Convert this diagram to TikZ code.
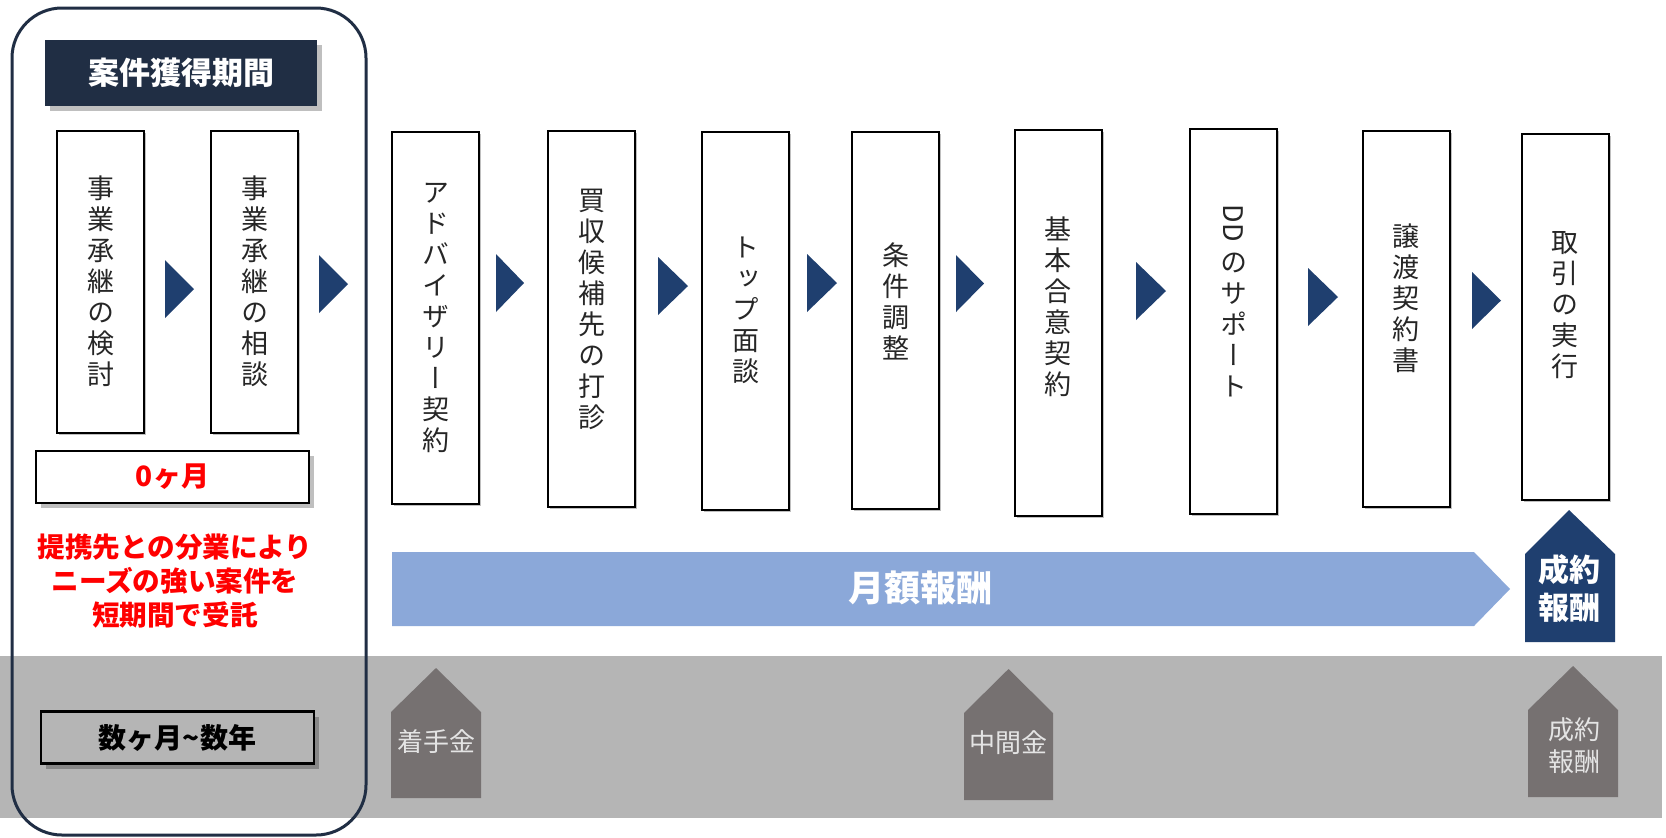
\documentclass[tikz,border=0pt]{standalone}
\usepackage{fontspec}
\setmainfont{Noto Sans CJK JP}
\newfontfamily\vfont[RawFeature=+vert]{Noto Sans CJK JP}
\usetikzlibrary{shadows}
\definecolor{navydark}{RGB}{32,46,68}
\definecolor{navy}{RGB}{31,63,111}
\definecolor{barblue}{RGB}{139,168,217}
\definecolor{bandgray}{RGB}{181,181,181}
\definecolor{pentgray}{RGB}{118,113,113}
\definecolor{pale}{RGB}{228,228,228}
\definecolor{redtext}{RGB}{255,0,0}
\begin{document}
\begin{tikzpicture}[x=0.5pt,y=-0.5pt,
  stepbox/.style={draw=black, line width=1pt, fill=white, minimum width=43.5pt, inner sep=0pt,
    drop shadow={shadow xshift=1pt, shadow yshift=-1pt, fill=black, opacity=0.25}},
  vtext/.style={align=center, font=\vfont\fontsize{13.5}{15.5}\selectfont, inner sep=0pt, text=black!85},
  tri/.style={fill=navy},
  softshadow/.style={drop shadow={shadow xshift=2.5pt, shadow yshift=-2.5pt, fill=black, opacity=0.25}},
  titlebox/.style={fill=navydark, text=white, font=\fontsize{15.5}{18}\selectfont\bfseries, minimum width=136pt, minimum height=33pt, inner sep=0pt, softshadow},
  periodbox/.style={draw=black, line width=1.2pt, minimum width=136.5pt, minimum height=26pt, inner sep=0pt, softshadow},
  pent/.style={fill=pentgray},
  penttext/.style={text=pale, font=\fontsize{13}{16}\selectfont, align=center, inner sep=0pt}
]
\useasboundingbox (0,0) rectangle (1666,837);
\fill[white] (0,0) rectangle (1666,837);

% gray band
\fill[bandgray] (0,656) rectangle (1662,818);

% outer rounded frame
\draw[navydark, line width=1.5pt, rounded corners=25pt] (12,8) rectangle (366,835);

% title
\node[titlebox] (title) at (181,73) {案件獲得期間};

% step boxes
\node[stepbox, minimum height=151pt] (b1) at (100.5,282) {};
\node[stepbox, minimum height=151pt] (b2) at (254,282) {};
\node[stepbox, minimum height=186pt] (b3) at (435.5,318) {};
\node[stepbox, minimum height=188pt] (b4) at (591.5,319) {};
\node[stepbox, minimum height=189pt] (b5) at (745.5,321) {};
\node[stepbox, minimum height=188.5pt] (b6) at (895.5,320.5) {};
\node[stepbox, minimum height=193pt] (b7) at (1058,323) {};
\node[stepbox, minimum height=192.5pt] (b8) at (1233.5,321.5) {};
\node[stepbox, minimum height=188pt] (b9) at (1406,319) {};
\node[stepbox, minimum height=183pt] (b10) at (1565,317) {};

% vertical texts
\node[vtext] (t1) at (100.5,281) {事\\業\\承\\継\\の\\検\\討};
\node[vtext] (t2) at (255,281) {事\\業\\承\\継\\の\\相\\談};
\node[vtext] (t3) at (435.5,318) {ア\\ド\\バ\\イ\\ザ\\リ\\ー\\契\\約};
\node[vtext] (t4) at (591.5,309) {買\\収\\候\\補\\先\\の\\打\\診};
\node[vtext] (t5) at (745.5,310) {ト\\ッ\\プ\\面\\談};
\node[vtext] (t6) at (895.5,301) {条\\件\\調\\整};
\node[vtext] (t7) at (1058,307) {基\\本\\合\\意\\契\\約};
\node[vtext, rotate=-90] (t8a) at (1233.5,223) {DD};
\node[vtext] (t8) at (1233.5,325) {の\\サ\\ポ\\ー\\ト};
\node[vtext] (t9) at (1406,298) {譲\\渡\\契\\約\\書};
\node[vtext] (t10) at (1565,305) {取\\引\\の\\実\\行};

% triangles between steps
\fill[tri] (165,260) -- (194,289) -- (165,318) -- cycle;
\fill[tri] (319,255) -- (348,284) -- (319,313) -- cycle;
\fill[tri] (496,254) -- (524,283) -- (496,312) -- cycle;
\fill[tri] (658,257) -- (688,286) -- (658,315) -- cycle;
\fill[tri] (807,254) -- (837,283) -- (807,312) -- cycle;
\fill[tri] (956,255) -- (984,283.5) -- (956,312) -- cycle;
\fill[tri] (1136,262) -- (1166,291) -- (1136,320) -- cycle;
\fill[tri] (1308,268) -- (1338,297) -- (1308,326) -- cycle;
\fill[tri] (1472,272) -- (1501,300.5) -- (1472,329) -- cycle;

% period boxes
\node[periodbox, fill=white] (zero) at (172.5,477) {\fontsize{14}{16}\selectfont\bfseries\color{redtext}0ヶ月};
\node[periodbox, fill=bandgray] (years) at (177.5,737.5) {\fontsize{14}{16}\selectfont\bfseries 数ヶ月\textasciitilde 数年};

% red note
\node[align=center, text=redtext, font=\fontsize{13.8}{17}\selectfont\bfseries, inner sep=0pt] (note) at (175,581) {提携先との分業により\\ニーズの強い案件を\\短期間で受託};

% monthly fee arrow
\fill[barblue] (392,552) -- (1474,552) -- (1510,589) -- (1474,626) -- (392,626) -- cycle;
\node[text=white, font=\fontsize{18}{20}\selectfont\bfseries, inner sep=0pt] (monthly) at (920,588) {月額報酬};

% success fee (navy)
\fill[navy] (1525,642) -- (1525,554) -- (1569,510) -- (1615,554) -- (1615,642) -- cycle;
\node[text=white, align=center, font=\fontsize{15.5}{19}\selectfont\bfseries, inner sep=0pt] (success) at (1569,589) {成約\\報酬};

% gray pentagons
\fill[pent] (391,798) -- (391,712) -- (436,668) -- (481,712) -- (481,798) -- cycle;
\node[penttext] (p1) at (436,742) {着手金};
\fill[pent] (964,800) -- (964,713) -- (1008.5,669) -- (1053,713) -- (1053,800) -- cycle;
\node[penttext] (p2) at (1008.5,743) {中間金};
\fill[pent] (1528,797) -- (1528,710) -- (1573,666) -- (1618,710) -- (1618,797) -- cycle;
\node[penttext] (p3) at (1574,746) {成約\\報酬};
\end{tikzpicture}
\end{document}
